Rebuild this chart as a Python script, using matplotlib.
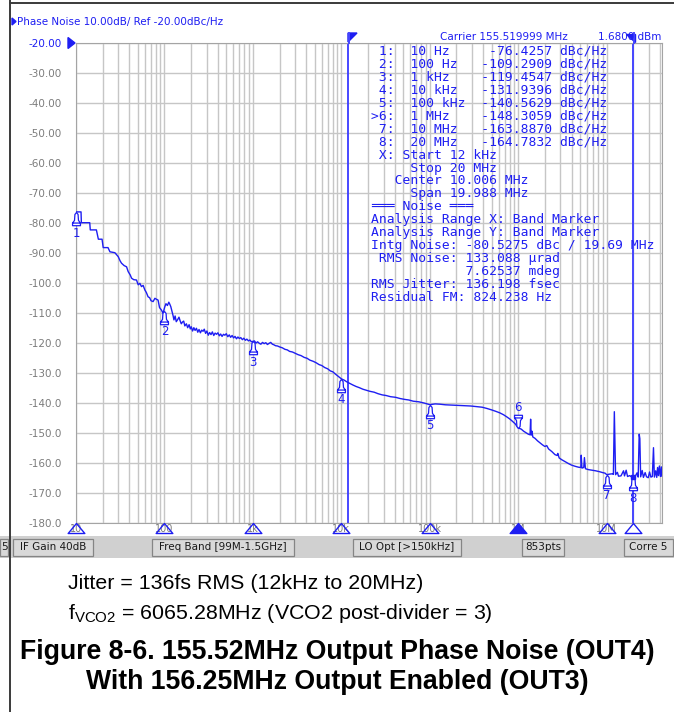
import matplotlib
matplotlib.use("Agg")
import matplotlib.pyplot as plt
from matplotlib.path import Path
from matplotlib.patches import Rectangle, Polygon
from matplotlib.lines import Line2D
from matplotlib.ticker import FixedLocator, NullFormatter

W, H = 674, 712

# phase noise trace, offset frequency in Hz and level in dBc/Hz
freq_hz = [
    10, 11.4, 11.5, 14.3, 14.5, 17.0, 17.9, 19.7, 20.3, 23.0, 24.2, 27.5, 30.0, 31.5,
    32.7, 35.0, 37.3, 38.9, 41.0, 42.5, 45.0, 48.3, 50.5, 52.7, 55.0, 57.4, 60.0, 62.5,
    65.3, 68.0, 70.5, 74.4, 78.0, 81.0, 84.7, 88.0, 92.4, 96.4, 100.7, 104, 108, 112,
    114.7, 118, 122, 125, 128, 132, 136, 141, 146, 150, 155, 160, 165, 170, 177, 183,
    190, 196, 201, 208, 215, 222, 230, 238, 246, 255, 264, 273, 282, 292, 302, 313,
    324, 336, 348, 361, 374, 388, 402, 417, 432, 448, 465, 482, 500, 520, 540, 560,
    582, 605, 628, 652, 677, 703, 730, 760, 790, 822, 855, 890, 925, 962, 1000, 1040,
    1085, 1130, 1180, 1230, 1285, 1340, 1400, 1460, 1525, 1590, 1660, 1730, 1800, 1900,
    2000, 2150, 2300, 2450, 2600, 2800, 3000, 3250, 3500, 3800, 4100, 4400, 4800, 5200,
    5600, 6000, 6500, 7000, 7500, 8000, 8600, 9300, 10e3, 10.8e3, 11.6e3, 12.5e3,
    13.5e3, 14.7e3, 16e3, 17.5e3, 19e3, 21e3, 23.5e3, 26e3, 29e3, 32e3, 36e3, 41e3,
    46e3, 52e3, 58e3, 65e3, 75e3, 86e3, 100e3, 115e3, 130e3, 150e3, 175e3, 200e3,
    240e3, 290e3, 340e3, 390e3, 440e3, 500e3, 560e3, 620e3, 680e3, 740e3, 800e3,
    860e3, 920e3, 1.0e6, 1.08e6, 1.15e6, 1.22e6, 1.3e6, 1.36e6, 1.38e6, 1.4e6, 1.43e6,
    1.46e6, 1.55e6, 1.65e6, 1.75e6, 1.87e6, 2.0e6, 2.1e6, 2.2e6, 2.4e6, 2.6e6, 2.75e6,
    2.8e6, 2.9e6, 3.1e6, 3.4e6, 3.7e6, 4.0e6, 4.4e6, 4.8e6, 5.1e6, 5.15e6, 5.25e6,
    5.5e6, 5.6e6, 5.75e6, 6.2e6, 6.8e6, 7.5e6, 8.3e6, 9.0e6, 9.6e6, 10.0e6, 10.8e6,
    11.6e6, 11.9e6, 12.2e6, 12.6e6, 13.2e6, 13.6e6, 14.5e6, 15.5e6, 15.9e6, 16.6e6,
    17.2e6, 18.2e6, 19.0e6, 20.0e6, 21.0e6, 22.0e6, 22.7e6, 23.3e6, 23.7e6, 24.2e6,
    25.2e6, 26.0e6, 27.2e6, 28.2e6, 29.5e6, 30.5e6, 31.6e6, 32.8e6, 33.8e6, 34.6e6,
    35.8e6, 36.8e6, 37.6e6, 38.5e6, 39.4e6, 40.5e6, 41.5e6, 42.2e6,
]
noise_dbc = [
    -76.3, -76.3, -79.9, -79.9, -82.3, -82.3, -85.4, -85.4, -88.2, -88.2, -89.6, -89.9, -91.2, -92.6,
    -93.4, -94.2, -94.6, -96.2, -97.3, -98.4, -98.9, -99.0, -100.6, -100.1, -101.2, -100.8, -102.3, -103.2,
    -104.6, -104.9, -105.9, -106.2, -105.1, -105.4, -105.7, -108.2, -109.0, -110.1, -108.0, -106.9, -107.5, -106.4,
    -107.0, -107.9, -109.6, -110.8, -112.3, -111.0, -112.9, -112.2, -111.4, -112.5, -113.6, -113.0, -112.7, -114.3, -113.6, -114.9,
    -113.9, -115.3, -114.6, -116.0, -114.9, -115.8, -115.1, -116.4, -115.5, -116.6, -115.7, -116.1, -115.4, -116.8, -116.0, -117.4,
    -116.5, -117.2, -116.3, -117.5, -116.7, -117.1, -116.6, -117.6, -117.0, -117.8, -117.1, -117.4, -116.9, -117.9, -117.3, -118.1,
    -117.5, -118.3, -117.8, -118.6, -118.0, -118.5, -118.2, -118.9, -118.4, -119.1, -118.7, -119.3, -119.0, -119.6, -119.45, -119.3,
    -120.0, -119.6, -120.1, -120.4, -119.8, -120.2, -119.9, -120.5, -120.1, -119.8, -120.4, -120.6, -120.9, -121.0,
    -121.3, -121.6, -122.1, -122.3, -122.8, -123.0, -123.4, -123.9, -124.2, -124.8, -125.1, -125.7, -126.1, -126.6,
    -127.2, -127.5, -128.2, -128.6, -129.3, -129.6, -130.4, -131.2, -131.94, -132.4, -133.0, -133.5,
    -134.0, -134.5, -134.9, -135.4, -135.7, -136.1, -136.4, -136.9, -137.3, -137.5, -137.9, -138.1,
    -138.5, -138.8, -139.0, -139.4, -139.6, -140.0, -140.56, -140.3, -140.4, -140.6, -140.7, -140.8,
    -140.9, -141.0, -141.2, -141.4, -141.8, -142.3, -142.8, -143.3, -143.9, -144.6, -145.3,
    -146.1, -146.9, -148.31, -148.7, -149.4, -149.9, -150.4, -150.6, -145.4, -150.7, -149.4,
    -151.3, -151.8, -152.6, -153.2, -153.9, -154.5, -154.2, -155.3, -156.2, -157.2, -157.5,
    -156.8, -158.3, -158.9, -159.6, -160.2, -160.7, -161.1, -161.4, -161.5, -157.4, -161.7,
    -161.5, -158.2, -161.9, -162.2, -162.4, -162.6, -162.9, -163.2, -163.4, -163.89, -163.7,
    -163.6, -163.8, -142.9, -163.9, -163.1, -164.4, -164.3, -162.6, -164.3, -162.4,
    -164.5, -164.2, -164.6, -164.78, -164.5, -163.3, -164.7, -150.4, -151.9, -164.6,
    -162.5, -164.8, -163.2, -164.6, -164.9, -163.0, -164.7, -164.5, -154.9, -164.7,
    -162.6, -164.8, -161.5, -164.2, -161.0, -164.5, -161.3, -164.4,
]

# marker table
marker_ids = ["1", "2", "3", "4", "5", "6", "7", "8"]
marker_freq = [10, 100, 1e3, 1e4, 1e5, 1e6, 1e7, 2e7]
marker_freq_text = ["10 Hz", "100 Hz", "1 kHz", "10 kHz", "100 kHz", "1 MHz", "10 MHz", "20 MHz"]
marker_dbc = [-76.4257, -109.2909, -119.4547, -131.9396, -140.5629, -148.3059, -163.8870, -164.7832]
active_marker = 5

band_start_hz = 12e3
band_stop_hz = 20e6

noise_lines = [
    " X: Start 12 kHz",
    "     Stop 20 MHz",
    "   Center 10.006 MHz",
    "     Span 19.988 MHz",
    "\u2550\u2550\u2550 Noise \u2550\u2550\u2550",
    "Analysis Range X: Band Marker",
    "Analysis Range Y: Band Marker",
    "Intg Noise: -80.5275 dBc / 19.69 MHz",
    " RMS Noise: 133.088 \u00b5rad",
    "            7.62537 mdeg",
    "RMS Jitter: 136.198 fsec",
    "Residual FM: 824.238 Hz",
]

y_ticks = list(range(-20, -190, -10))
y_tick_labels = [f"{v:.2f}" if v > -100 else f"{v:.1f}" for v in y_ticks]
x_ticks = [10, 100, 1e3, 1e4, 1e5, 1e6, 1e7]
x_tick_labels = ["10", "100", "1k", "10k", "100k", "1M", "10M"]

status_items = [("5", 0, 8), ("IF Gain 40dB", 13, 93), ("Freq Band [99M-1.5GHz]", 152, 294),
                ("LO Opt [>150kHz]", 353, 461), ("853pts", 522, 564), ("Corre 5", 624, 673)]

BLUE = "#1e1ef2"
LINE_BLUE = "#4646ff"
GRID = "#c6c6c6"
GRAY_TXT = "#7c7c7c"


def fx(x):
    return x / W


def fy(y):
    return 1 - y / H


fig = plt.figure(figsize=(W / 100, H / 100), dpi=100)
fig.patch.set_facecolor("white")

ax = fig.add_axes([fx(76), fy(523), 586 / W, 480 / H])
ax.set_xscale("log")
ax.set_xlim(10, 10 ** (1 + 586 / 88.45))
ax.set_ylim(-180, -20)

minor = [m * 10 ** d for d in range(1, 8) for m in range(2, 10)]
ax.xaxis.set_major_locator(FixedLocator(x_ticks))
ax.xaxis.set_minor_locator(FixedLocator(minor))
ax.xaxis.set_minor_formatter(NullFormatter())
ax.set_xticklabels(x_tick_labels)
ax.set_yticks(y_ticks)
ax.set_yticklabels(y_tick_labels)
ax.grid(which="both", color=GRID, lw=1.0)
ax.set_axisbelow(True)
for s in ax.spines.values():
    s.set_color("#a4a4a4")
ax.tick_params(which="both", length=0)
ax.tick_params(axis="y", labelsize=7.5, labelcolor=GRAY_TXT, pad=10)
ax.tick_params(axis="x", labelsize=7, labelcolor=GRAY_TXT, pad=1)
ax.get_yticklabels()[0].set_color(BLUE)

# trace
ax.plot(freq_hz, noise_dbc, color=BLUE, lw=1.0, zorder=3)

# band marker lines
for f in (band_start_hz, band_stop_hz):
    ax.axvline(f, color=LINE_BLUE, lw=1.4, zorder=2)
fig.add_artist(Line2D([fx(348.5), fx(348.5)], [fy(33), fy(43)], color=LINE_BLUE, lw=1.4))
fig.add_artist(Line2D([fx(634), fx(634)], [fy(33), fy(43)], color=LINE_BLUE, lw=1.4))
fig.add_artist(Polygon([(fx(348), fy(33)), (fx(357), fy(33)), (fx(348), fy(42))],
                       closed=True, color=BLUE))
fig.add_artist(Polygon([(fx(626), fy(34)), (fx(635), fy(34)), (fx(635), fy(42))],
                       closed=True, color=BLUE))

# marker glyphs on the trace
bell = [(0, 0), (-0.12, -0.15), (-0.15, -0.6), (-0.3, -0.8), (-0.3, -1.0),
        (0.3, -1.0), (0.3, -0.8), (0.15, -0.6), (0.12, -0.15), (0, 0),
        (-0.3, -0.8), (0.3, -0.8)]
codes = [Path.MOVETO] + [Path.LINETO] * 8 + [Path.CLOSEPOLY, Path.MOVETO, Path.LINETO]
bell_down = Path(bell, codes)
bell_up = Path([(x, -y) for x, y in bell], codes)
for i, (f, v, lab) in enumerate(zip(marker_freq, marker_dbc, marker_ids)):
    up = i == active_marker
    ax.plot([f], [v], marker=bell_up if up else bell_down, ms=19, mfc="white",
            mec=BLUE, mew=0.9, ls="none", zorder=4, clip_on=False)
    ax.annotate(lab, (f, v), xytext=(0, 15 if up else -15), textcoords="offset points",
                ha="center", va="center", color=BLUE, fontsize=8.5, zorder=5)
ax.plot([marker_freq[-1]], [marker_dbc[-1]], marker="s", ms=3.5, color=BLUE, zorder=5)

# marker triangles under the frequency axis
tri = Path([(0, 0.6), (-1, -0.6), (1, -0.6), (0, 0.6), (0, -0.6)],
           [Path.MOVETO, Path.LINETO, Path.LINETO, Path.CLOSEPOLY, Path.MOVETO])
trans = ax.get_xaxis_transform()
for i, f in enumerate(marker_freq):
    ax.plot([f], [-5 / 480], marker=tri, ms=12, mec=BLUE, mew=1.0,
            mfc=BLUE if i == active_marker else "none", ls="none",
            transform=trans, clip_on=False, zorder=6)

# header
fig.add_artist(Polygon([(fx(12), fy(18)), (fx(16), fy(21.5)), (fx(12), fy(25))],
                       closed=True, color=BLUE))
fig.text(fx(17), fy(21.5), "Phase Noise 10.00dB/ Ref -20.00dBc/Hz", color=BLUE,
         fontsize=7.5, va="center", ha="left")
fig.add_artist(Polygon([(fx(68), fy(37.5)), (fx(75), fy(43)), (fx(68), fy(48.5))],
                       closed=True, color=BLUE))
fig.text(fx(440), fy(37), "Carrier 155.519999 MHz", color=BLUE, fontsize=7.5, va="center")
fig.text(fx(598), fy(37), "1.6800 dBm", color=BLUE, fontsize=7.5, va="center")

# marker readout
x0 = 371
row = 12.95
mono = dict(family="DejaVu Sans Mono", fontsize=9.35, color=BLUE, va="center", ha="left")
for i, (lab, ft, v) in enumerate(zip(marker_ids, marker_freq_text, marker_dbc)):
    tag = (">" if i == active_marker else " ") + lab + ":"
    fig.text(fx(x0), fy(51.5 + i * row), f"{tag:>3}  {ft:<9}{v:>9.4f} dBc/Hz", **mono)
for j, line in enumerate(noise_lines):
    fig.text(fx(x0), fy(51.5 + (8 + j) * row), line, **mono)

# status bar
fig.add_artist(Rectangle((0, fy(558)), 1, (558 - 536) / H, color="#d0d0d0", lw=0))
for text, a, b in status_items:
    fig.add_artist(Rectangle((fx(a), fy(556)), (b - a) / W, 17 / H, facecolor="#d9d9d9",
                             edgecolor="#858585", lw=0.9))
    fig.text(fx((a + b) / 2), fy(547.5), text, fontsize=7.5, color="#1a1a1a",
             ha="center", va="center")

# page border
fig.add_artist(Line2D([fx(9.5), fx(9.5)], [0, 1], color="#3a3a3a", lw=1.4))
fig.add_artist(Line2D([fx(9.5), 1], [fy(2.5), fy(2.5)], color="#3a3a3a", lw=1.4))

# caption
cap = dict(family="Liberation Sans", color="black", va="baseline")
fig.text(fx(68), fy(589), "Jitter = 136fs RMS (12kHz to 20MHz)", fontsize=15.4, **cap)
fig.text(fx(68), fy(619), r"f$_{\mathregular{VCO2}}$ = 6065.28MHz (VCO2 post-divider = 3)",
         fontsize=15.4, **cap)
fig.text(fx(337), fy(659), "Figure 8-6. 155.52MHz Output Phase Noise (OUT4)",
         fontsize=19.2, fontweight="bold", ha="center", **cap)
fig.text(fx(337), fy(689), "With 156.25MHz Output Enabled (OUT3)",
         fontsize=19.2, fontweight="bold", ha="center", **cap)

fig.savefig("out.png", dpi=100)
